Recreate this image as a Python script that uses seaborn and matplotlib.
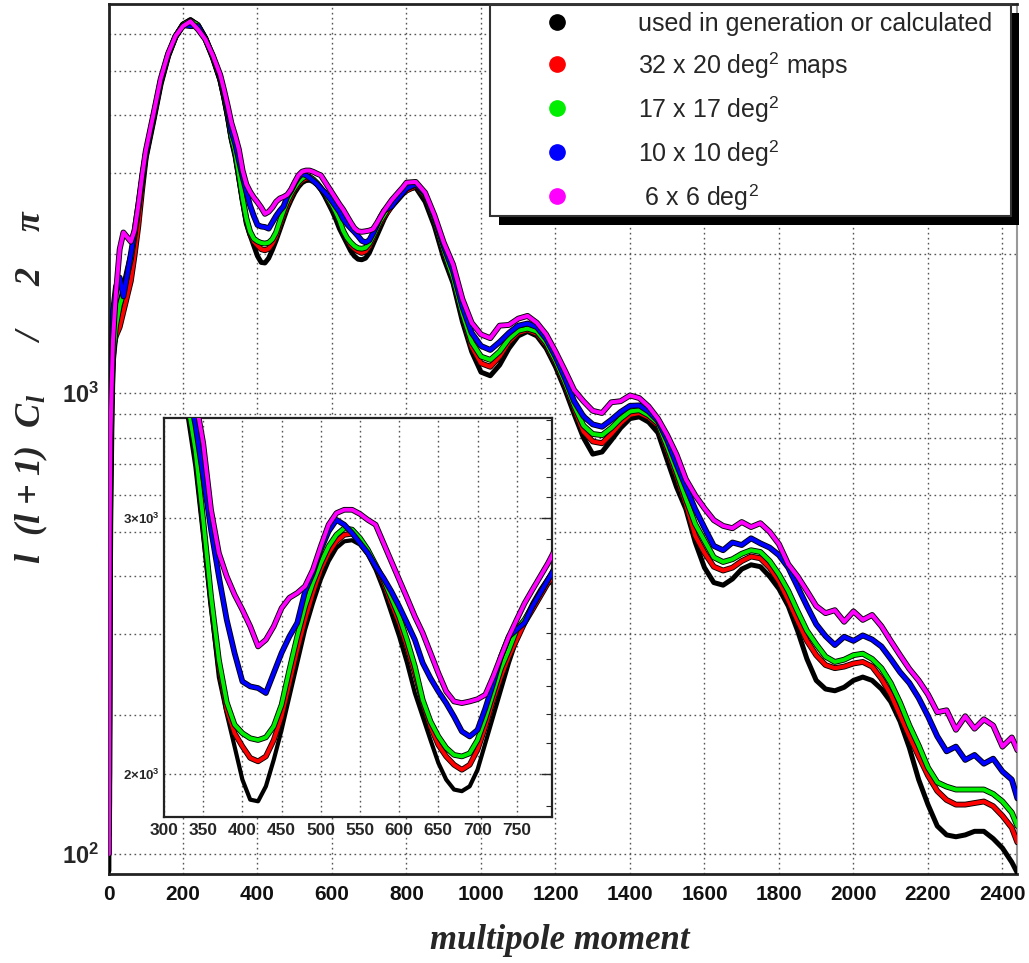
import numpy as np
import pandas as pd
import seaborn as sns
import matplotlib
matplotlib.use("Agg")
import matplotlib.pyplot as plt
from matplotlib import patheffects as pe
from matplotlib.lines import Line2D
from matplotlib.patches import Rectangle
from matplotlib.ticker import FixedLocator, FixedFormatter, NullFormatter

# ---------------------------------------------------------------- data
ell = ([1, 2, 3, 5, 8, 12, 20, 30, 40, 50, 60, 70, 80, 90, 100, 120, 140, 160, 180,
        200, 220, 240, 260, 280, 300, 310, 320, 330]
       + list(range(340, 801, 10))
       + list(range(825, 2426, 25)) + [2440])

cl_input = [92, 350, 600, 850, 1000, 1150, 1350, 1550, 1700, 1850, 2000, 2200, 2500, 2950,
            3330, 3900, 4700, 5400, 5950, 6300, 6450, 6300, 5900, 5350, 4750, 4350, 3950, 3530,
            3254, 2912, 2607, 2330, 2200, 2089, 1982, 1920, 1915, 1961, 2045, 2144, 2261, 2384,
            2513, 2620, 2720, 2800, 2860, 2890, 2895, 2875, 2830, 2763, 2677, 2580, 2486, 2384,
            2273, 2190, 2110, 2035, 1982, 1951, 1946, 1961, 2013, 2100, 2190, 2285, 2384, 2473,
            2553, 2620, 2677, 2727, 2763,
            2790, 2600, 2300, 1960, 1730, 1430, 1230, 1110, 1090, 1150, 1250, 1330, 1360, 1330,
            1250, 1140, 1020, 900, 800, 737, 745, 790, 840, 880, 888, 865, 820, 715, 625, 560,
            475, 418, 388, 383, 395, 415, 424, 420, 400, 376, 345, 305, 265, 238, 228, 226, 230,
            238, 242, 238, 228, 214, 194, 170, 145, 128, 115, 110, 109, 110, 112, 112, 108, 103,
            96, 91]

cl_32x20 = [110, 130, 300, 550, 850, 1260, 1330, 1390, 1500, 1620, 1750, 1990, 2300, 2750,
            3240, 3880, 4680, 5380, 5930, 6300, 6440, 6260, 5860, 5340, 4780, 4400, 4000, 3580,
            3324, 2959, 2620, 2371, 2215, 2133, 2089, 2051, 2040, 2056, 2110, 2190, 2308, 2434,
            2553, 2663, 2763, 2837, 2890, 2920, 2925, 2897, 2845, 2778, 2706, 2620, 2540, 2447,
            2346, 2237, 2156, 2094, 2056, 2029, 2013, 2029, 2078, 2156, 2249, 2333, 2409, 2473,
            2540, 2593, 2649, 2706, 2748,
            2810, 2660, 2350, 2010, 1760, 1470, 1260, 1160, 1140, 1200, 1290, 1350, 1370, 1345,
            1270, 1160, 1040, 925, 825, 785, 778, 815, 860, 897, 905, 885, 850, 750, 660, 575,
            490, 450, 420, 412, 418, 432, 442, 438, 418, 390, 355, 320, 290, 270, 257, 253, 255,
            259, 261, 255, 240, 222, 200, 180, 163, 148, 137, 131, 128, 128, 129, 130, 127, 121,
            114, 106]

cl_17x17 = [130, 150, 350, 650, 950, 1200, 1400, 1550, 1650, 1800, 1950, 2200, 2500, 2870,
            3270, 3920, 4720, 5400, 5940, 6300, 6420, 6280, 5880, 5360, 4800, 4420, 4020, 3600,
            3342, 2990, 2649, 2396, 2240, 2162, 2133, 2116, 2110, 2119, 2156, 2231, 2358, 2486,
            2607, 2706, 2792, 2867, 2920, 2951, 2944, 2905, 2852, 2785, 2720, 2643, 2566, 2473,
            2371, 2249, 2173, 2122, 2084, 2061, 2056, 2066, 2110, 2184, 2273, 2364, 2434, 2513,
            2553, 2607, 2663, 2720, 2778,
            2830, 2680, 2370, 2040, 1780, 1490, 1290, 1200, 1180, 1230, 1310, 1365, 1380, 1360,
            1285, 1175, 1055, 940, 850, 815, 810, 840, 880, 912, 918, 895, 860, 765, 675, 590,
            520, 478, 440, 430, 436, 448, 456, 452, 432, 404, 372, 336, 305, 285, 268, 261, 264,
            270, 272, 265, 253, 235, 213, 190, 172, 154, 143, 140, 138, 138, 138, 138, 135, 130,
            123, 115]

cl_10x10 = [150, 200, 450, 700, 1100, 1500, 1700, 1780, 1620, 1800, 2000, 2250, 2550, 2900,
            3300, 3950, 4750, 5420, 5930, 6280, 6250, 6250, 5880, 5380, 4850, 4480, 4100, 3700,
            3477, 3203, 2944, 2734, 2553, 2422, 2315, 2297, 2291, 2273, 2346, 2422, 2486, 2540,
            2670, 2748, 2852, 2936, 2990, 2967, 2928, 2882, 2837, 2778, 2727, 2670, 2607, 2540,
            2473, 2384, 2327, 2279, 2237, 2190, 2139, 2122, 2144, 2219, 2308, 2409, 2486, 2513,
            2540, 2607, 2663, 2720, 2778,
            2840, 2700, 2400, 2080, 1840, 1540, 1350, 1265, 1240, 1290, 1350, 1400, 1415, 1390,
            1310, 1200, 1080, 960, 890, 855, 845, 875, 910, 938, 940, 912, 870, 790, 700, 625,
            560, 510, 466, 456, 474, 468, 484, 472, 462, 445, 418, 380, 345, 315, 297, 284, 296,
            290, 298, 292, 282, 265, 248, 235, 218, 199, 180, 167, 171, 160, 164, 157, 161, 151,
            145, 132]

cl_6x6 = [100, 250, 500, 800, 1000, 1300, 1650, 2050, 2230, 2180, 2130, 2250, 2550, 2950,
          3350, 4000, 4800, 5450, 5950, 6250, 6400, 6150, 5850, 5400, 4900, 4550, 4200, 3850,
          3620, 3377, 3038, 2837, 2734, 2656, 2593, 2526, 2447, 2473, 2526, 2600, 2643, 2663,
          2692, 2763, 2867, 2967, 3022, 3038, 3038, 3018, 2990, 2967, 2882, 2800, 2720, 2643,
          2566, 2500, 2422, 2346, 2279, 2243, 2237, 2243, 2251, 2267, 2333, 2409, 2486, 2553,
          2620, 2677, 2734, 2792, 2860,
          2870, 2720, 2430, 2120, 1900, 1600, 1420, 1340, 1315, 1400, 1405, 1450, 1470, 1420,
          1340, 1230, 1120, 1015, 960, 915, 905, 955, 960, 988, 975, 935, 880, 810, 735, 650,
          600, 562, 530, 515, 509, 525, 512, 522, 500, 470, 425, 400, 372, 345, 333, 338, 319,
          336, 322, 330, 312, 290, 270, 252, 238, 222, 203, 205, 186, 199, 187, 196, 190, 171,
          179, 168]

series_names = ["used in generation or calculated", "32 x 20 deg$^{2}$ maps",
                "17 x 17 deg$^{2}$", "10 x 10 deg$^{2}$", " 6 x 6 deg$^{2}$"]
series_values = [cl_input, cl_32x20, cl_17x17, cl_10x10, cl_6x6]
series_colors = ["#000000", "#ff0000", "#00ee00", "#0000ff", "#ff00ff"]

main_xticks = list(range(0, 2401, 200))
inset_xticks = list(range(300, 751, 50))

df = pd.concat([pd.DataFrame({"ell": ell, "power": v, "series": n})
                for n, v in zip(series_names, series_values)], ignore_index=True)

# ---------------------------------------------------------------- style
sns.set_theme(style="white")
plt.rcParams["font.family"] = ["Liberation Sans", "DejaVu Sans"]
plt.rcParams["mathtext.fontset"] = "custom"
plt.rcParams["mathtext.rm"] = "Liberation Sans"
plt.rcParams["mathtext.bf"] = "Liberation Sans:bold"
plt.rcParams["mathtext.it"] = "Liberation Serif:bold:italic"
plt.rcParams["axes.linewidth"] = 2.0
plt.rcParams["axes.edgecolor"] = "#222222"

W, H = 1029, 963
fig = plt.figure(figsize=(W / 100, H / 100), dpi=100)
fig.patch.set_facecolor("white")


def fx(px):
    return px / W


def fy(py):
    return 1 - py / H


ax = fig.add_axes([fx(108.5), fy(874), fx(1017) - fx(108.5), fy(4) - fy(874)])
axin = fig.add_axes([fx(164), fy(817), fx(552) - fx(164), fy(418) - fy(817)])


def draw_curves(a, lw_black, lw_col):
    for name, col in zip(series_names, series_colors):
        sub = df[df["series"] == name]
        if col == "#000000":
            sns.lineplot(data=sub, x="ell", y="power", color=col, lw=lw_black, ax=a,
                         estimator=None, sort=False, legend=False, zorder=3)
        else:
            sns.lineplot(data=sub, x="ell", y="power", color=col, lw=lw_col, ax=a,
                         estimator=None, sort=False, legend=False, zorder=4,
                         path_effects=[pe.Stroke(linewidth=lw_col + 1.3, foreground="black"),
                                       pe.Normal()])


# ---------------------------------------------------------------- main panel
draw_curves(ax, 3.6, 2.9)
ax.set_yscale("log")
ax.set_xlim(0, 2439)
ax.set_ylim(90.5, 6980)
ax.set_xlabel("")
ax.set_ylabel("")

ax.xaxis.set_major_locator(FixedLocator(main_xticks))
ax.xaxis.set_major_formatter(FixedFormatter([str(t) for t in main_xticks]))
ax.xaxis.set_minor_locator(FixedLocator(list(range(0, 2440, 50))))
ax.yaxis.set_major_locator(FixedLocator([100, 1000]))
ax.yaxis.set_major_formatter(FixedFormatter([r"$\mathbf{10^{2}}$", r"$\mathbf{10^{3}}$"]))
minor_y = [m * 10 ** k for k in (2, 3) for m in range(2, 10) if m * 10 ** k < 7000]
ax.yaxis.set_minor_locator(FixedLocator(minor_y))
ax.yaxis.set_minor_formatter(NullFormatter())

ax.tick_params(axis="x", which="major", direction="in", length=24, width=1.6,
               labelsize=15, pad=8, colors="#111111")
ax.tick_params(axis="x", which="minor", direction="in", length=12, width=1.4)
ax.tick_params(axis="y", which="major", direction="in", length=28, width=1.6,
               labelsize=17, pad=7)
ax.tick_params(axis="y", which="minor", direction="in", length=14, width=1.4)
for lab in ax.get_xticklabels():
    lab.set_fontweight("bold")

grid_kw = dict(color="#555555", lw=1.0, ls=(0, (1.2, 2.4)))
ax.grid(False)
ax.xaxis.grid(True, which="major", **grid_kw)
ax.yaxis.grid(True, which="both", **grid_kw)
ax.set_axisbelow(True)
ax.spines["right"].set_color("#999999")
ax.spines["right"].set_linewidth(1.5)

# ---------------------------------------------------------------- inset
axin.set_facecolor("white")
axin.set_zorder(5)
draw_curves(axin, 3.0, 2.8)
axin.set_yscale("log")
axin.set_xlim(300, 795)
axin.set_ylim(1868, 3513)
axin.set_xlabel("")
axin.set_ylabel("")
axin.xaxis.set_major_locator(FixedLocator(inset_xticks))
axin.xaxis.set_major_formatter(FixedFormatter([str(t) for t in inset_xticks]))
axin.xaxis.set_minor_locator(FixedLocator(list(range(300, 796, 10))))
axin.yaxis.set_major_locator(FixedLocator([2000, 3000]))
axin.yaxis.set_major_formatter(FixedFormatter([r"$\mathbf{2{\times}10^{3}}$",
                                               r"$\mathbf{3{\times}10^{3}}$"]))
axin.yaxis.set_minor_locator(FixedLocator([v for v in range(1900, 3600, 100)
                                           if v not in (2000, 3000)]))
axin.yaxis.set_minor_formatter(NullFormatter())
axin.tick_params(axis="x", which="major", direction="in", length=11, width=1.2,
                 labelsize=12.5, pad=4)
axin.tick_params(axis="x", which="minor", direction="in", length=5, width=1.0)
axin.tick_params(axis="y", which="major", direction="in", length=8, width=1.0,
                 labelsize=9.5, pad=3, right=True)
axin.tick_params(axis="y", which="minor", direction="in", length=4, width=0.8,
                 right=True)
for lab in axin.get_xticklabels():
    lab.set_fontweight("bold")
axin.grid(False)
axin.xaxis.grid(True, which="major", **grid_kw)
axin.yaxis.grid(True, which="major", **grid_kw)
for s in axin.spines.values():
    s.set_linewidth(1.6)
    s.set_color("#222222")

# ---------------------------------------------------------------- axis titles
fig.text(fx(31), fy(386), "l  (l + 1)  C$_{l}$      /     2    π", rotation=90,
         ha="center", va="center", fontsize=26, family="Liberation Serif",
         fontweight="bold", fontstyle="italic")
fig.text(fx(560), fy(940), "multipole moment", ha="center", va="center",
         fontsize=25, family="Liberation Serif", fontweight="bold", fontstyle="italic")

# ---------------------------------------------------------------- legend
shadow = Rectangle((fx(499), fy(225)), fx(1019) - fx(499), fy(13) - fy(225),
                   transform=fig.transFigure, facecolor="black", edgecolor="none",
                   zorder=8)
frame = Rectangle((fx(490), fy(216)), fx(1011) - fx(490), fy(5) - fy(216),
                  transform=fig.transFigure, facecolor="white", edgecolor="#333333",
                  lw=1.5, zorder=9)
fig.add_artist(shadow)
fig.add_artist(frame)

handles = [Line2D([], [], ls="none", marker="o", markersize=11, color=c,
                  markeredgecolor=c) for c in series_colors]
leg = fig.legend(handles, series_names, loc="upper left",
                 bbox_to_anchor=(fx(544), fy(12)), frameon=False, fontsize=18,
                 handlelength=1.0, handletextpad=2.75, labelspacing=0.56,
                 borderpad=0.0, borderaxespad=0.0)
leg.set_zorder(10)

fig.savefig("out.png", dpi=100)
